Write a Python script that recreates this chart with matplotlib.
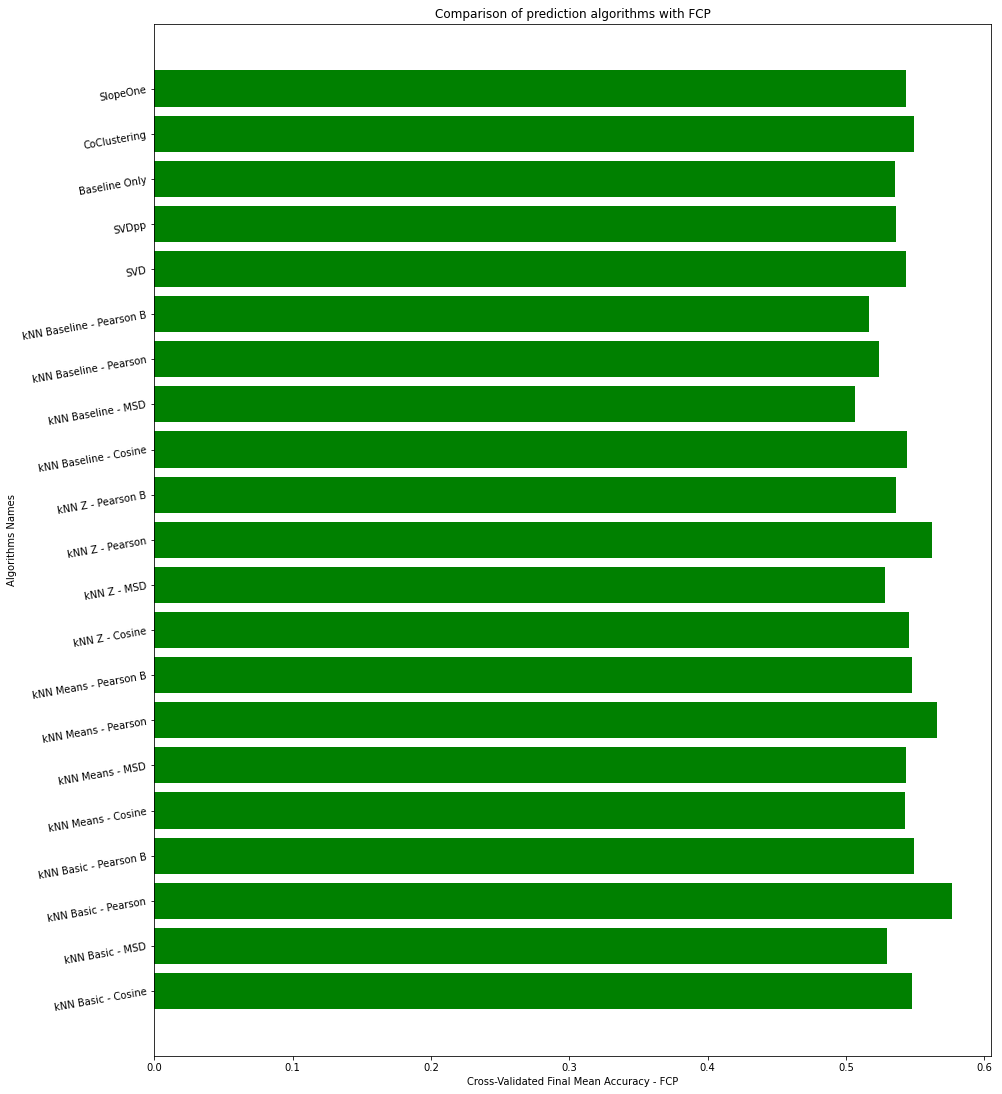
import matplotlib
matplotlib.use("Agg")
import matplotlib.pyplot as plt

algorithms = [
    "kNN Basic - Cosine", "kNN Basic - MSD", "kNN Basic - Pearson", "kNN Basic - Pearson B",
    "kNN Means - Cosine", "kNN Means - MSD", "kNN Means - Pearson", "kNN Means - Pearson B",
    "kNN Z - Cosine", "kNN Z - MSD", "kNN Z - Pearson", "kNN Z - Pearson B",
    "kNN Baseline - Cosine", "kNN Baseline - MSD", "kNN Baseline - Pearson",
    "kNN Baseline - Pearson B", "SVD", "SVDpp", "Baseline Only", "CoClustering", "SlopeOne",
]
fcp = [
    0.548, 0.5294, 0.5764, 0.549,
    0.5425, 0.5435, 0.5655, 0.5475,
    0.5455, 0.5285, 0.5625, 0.5365,
    0.5445, 0.5065, 0.524,
    0.5165, 0.5435, 0.5365, 0.5355, 0.549, 0.5437,
]

fig = plt.figure(figsize=(1002 / 72, 1094 / 72), dpi=72)
ax = fig.add_axes([0.154, 0.0347, 0.8355, 0.9438])
ax.barh(algorithms, fcp, color="green")
ax.set_title("Comparison of prediction algorithms with FCP")
ax.set_xlabel("Cross-Validated Final Mean Accuracy - FCP")
ax.set_ylabel("Algorithms Names")
plt.setp(ax.get_yticklabels(), rotation=10)
fig.savefig("out.png", dpi=72)
